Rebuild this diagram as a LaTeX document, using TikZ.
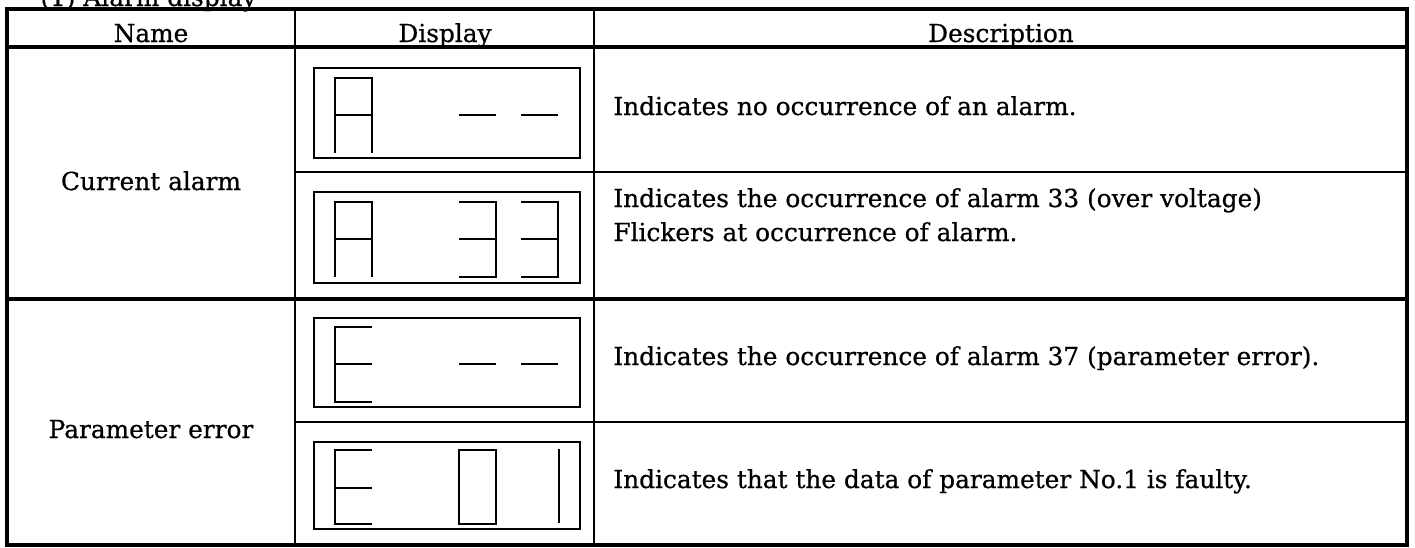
\documentclass[tikz,border=0pt]{standalone}
\usepackage{fontspec}
\setmainfont{DejaVu Serif}[FakeBold=0.6]
\tikzset{
  celltext/.style={inner sep=0pt, anchor=base, font=\fontsize{12.4}{14}\selectfont},
  desctext/.style={celltext, anchor=base west},
  dispbox/.style={line width=1.4pt},
  seg/.style={line width=0.9pt},
}
\begin{document}
\begin{tikzpicture}[x=0.5pt, y=-0.5pt]
\useasboundingbox[fill=white] (0,0) rectangle (1415,547);
% title, cut at the top edge
\node[desctext] (title) at (40,6) {(1) Alarm display};
% table frame and rules
\draw[line width=2pt] (7,9) rectangle (1407,545);
\draw[line width=1.6pt] (7,47) -- (1407,47);
\draw[line width=1.6pt] (7,299) -- (1407,299);
\draw[line width=1pt] (295,172) -- (1407,172);
\draw[line width=1pt] (295,422) -- (1407,422);
\draw[line width=1.2pt] (295,9) -- (295,545);
\draw[line width=1.2pt] (594,9) -- (594,545);
% header
\node[celltext] (hdrname) at (151,42) {Name};
\node[celltext] (hdrdisp) at (445,42) {Display};
\node[celltext] (hdrdesc) at (1001,42) {Description};
\node[celltext] (grpcur) at (151,190) {Current alarm};
\node[celltext] (grppar) at (151,438) {Parameter error};
% display boxes: "A - -"
\begin{scope}[shift={(0,68)}]
\draw[dispbox] (314,0) rectangle (580,90);
\draw[seg] (335,85) -- (335,10) -- (372,10) -- (372,85);
\draw[seg] (335,47) -- (372,47);
\draw[seg] (459,47) -- (496,47);
\draw[seg] (521,47) -- (558,47);
\end{scope}
% "A 3 3"
\begin{scope}[shift={(0,192)}]
\draw[dispbox] (314,0) rectangle (580,91);
\draw[seg] (335,85) -- (335,10) -- (372,10) -- (372,85);
\draw[seg] (335,47) -- (372,47);
\foreach \dx in {459,521} {
  \draw[seg] (\dx,10) -- (\dx+37,10) -- (\dx+37,85) -- (\dx,85);
  \draw[seg] (\dx,47) -- (\dx+37,47);
}
\end{scope}
% "E - -"
\begin{scope}[shift={(0,318)}]
\draw[dispbox] (314,0) rectangle (580,89);
\draw[seg] (372,9) -- (335,9) -- (335,84) -- (372,84);
\draw[seg] (335,46) -- (372,46);
\draw[seg] (459,46) -- (496,46);
\draw[seg] (521,46) -- (558,46);
\end{scope}
% "E 0 1"
\begin{scope}[shift={(0,442)}]
\draw[dispbox] (314,0) rectangle (580,87);
\draw[seg] (372,8) -- (335,8) -- (335,82) -- (372,82);
\draw[seg] (335,46) -- (372,46);
\draw[seg] (459,8) rectangle (496,82);
\draw[seg] (559,7) -- (559,81);
\end{scope}
% descriptions
\node[desctext] (desca) at (613,115) {Indicates no occurrence of an alarm.};
\node[desctext] (descb) at (613,207) {Indicates the occurrence of alarm 33 (over voltage)};
\node[desctext] (descc) at (613,241) {Flickers at occurrence of alarm.};
\node[desctext] (descd) at (613,365) {Indicates the occurrence of alarm 37 (parameter error).};
\node[desctext] (desce) at (613,488) {Indicates that the data of parameter No.1 is faulty.};
\end{tikzpicture}
\end{document}
